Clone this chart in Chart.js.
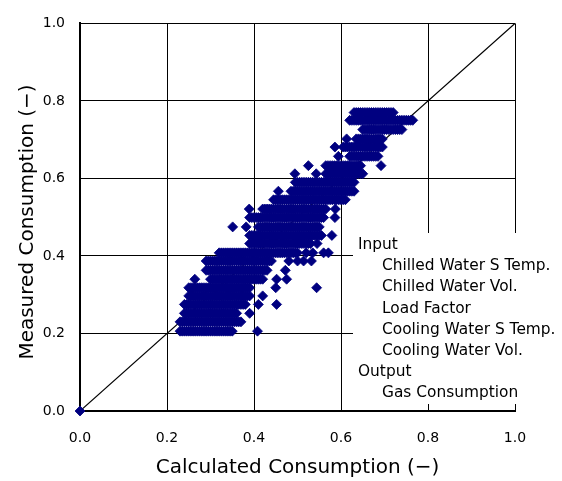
<!DOCTYPE html>
<html lang="en">
<head>
<meta charset="UTF-8">
<title>Measured vs Calculated Consumption</title>
<script src="https://cdn.jsdelivr.net/npm/chart.js"></script>
<style>
  body { margin: 0; background: #fff; }
  #wrap { width: 562px; height: 481px; }
</style>
</head>
<body>
<div id="wrap"><canvas id="scatterChart" width="562" height="481"></canvas></div>
<script>
// measured consumption of each horizontal band of points
const levels = [0, 0.206, 0.230, 0.252, 0.275, 0.297, 0.318, 0.340, 0.363, 0.387, 0.408, 0.432, 0.453,
  0.475, 0.499, 0.521, 0.545, 0.567, 0.590, 0.612, 0.633, 0.657, 0.681, 0.702, 0.726, 0.750, 0.770];

// calculated consumption of the points on each band
const row00 = [0];
const row01 = [0.23, 0.235, 0.24, 0.245, 0.25, 0.255, 0.26, 0.265, 0.27, 0.275, 0.28, 0.285, 0.29, 0.295, 0.30,
  0.305, 0.31, 0.315, 0.32, 0.325, 0.33, 0.335, 0.34, 0.345, 0.35, 0.408];
const row02 = [0.23, 0.235, 0.24, 0.245, 0.25, 0.255, 0.26, 0.265, 0.27, 0.275, 0.28, 0.285, 0.29, 0.295, 0.30,
  0.305, 0.31, 0.315, 0.32, 0.325, 0.33, 0.335, 0.34, 0.345, 0.35, 0.355, 0.36, 0.365, 0.37];
const row03 = [0.24, 0.245, 0.25, 0.255, 0.26, 0.265, 0.27, 0.275, 0.28, 0.285, 0.29, 0.295, 0.30, 0.305, 0.31,
  0.315, 0.32, 0.325, 0.33, 0.335, 0.34, 0.345, 0.35, 0.355, 0.36, 0.39];
const row04 = [0.24, 0.245, 0.25, 0.255, 0.26, 0.265, 0.27, 0.275, 0.28, 0.285, 0.29, 0.295, 0.30, 0.305, 0.31,
  0.315, 0.32, 0.325, 0.33, 0.335, 0.34, 0.345, 0.35, 0.355, 0.36, 0.365, 0.37, 0.375, 0.38, 0.41, 0.452];
const row05 = [0.25, 0.255, 0.26, 0.265, 0.27, 0.275, 0.28, 0.285, 0.29, 0.295, 0.30, 0.305, 0.31, 0.315, 0.32,
  0.325, 0.33, 0.335, 0.34, 0.345, 0.35, 0.355, 0.36, 0.365, 0.37, 0.375, 0.38, 0.385, 0.39, 0.42];
const row06 = [0.25, 0.255, 0.26, 0.265, 0.27, 0.275, 0.28, 0.285, 0.29, 0.295, 0.30, 0.305, 0.31, 0.315, 0.32,
  0.325, 0.33, 0.335, 0.34, 0.345, 0.35, 0.355, 0.36, 0.365, 0.37, 0.375, 0.38, 0.385, 0.39, 0.45, 0.544];
const row07 = [0.264, 0.30, 0.305, 0.31, 0.315, 0.32, 0.325, 0.33, 0.335, 0.34, 0.345, 0.35, 0.355, 0.36, 0.365,
  0.37, 0.375, 0.38, 0.385, 0.39, 0.395, 0.40, 0.405, 0.41, 0.415, 0.42, 0.452, 0.475];
const row08 = [0.29, 0.295, 0.30, 0.305, 0.31, 0.315, 0.32, 0.325, 0.33, 0.335, 0.34, 0.345, 0.35, 0.355, 0.36,
  0.365, 0.37, 0.375, 0.38, 0.385, 0.39, 0.395, 0.40, 0.405, 0.41, 0.415, 0.42, 0.425, 0.43, 0.472];
const row09 = [0.29, 0.295, 0.30, 0.305, 0.31, 0.315, 0.32, 0.325, 0.33, 0.335, 0.34, 0.345, 0.35, 0.355, 0.36,
  0.365, 0.37, 0.375, 0.38, 0.385, 0.39, 0.395, 0.40, 0.405, 0.41, 0.415, 0.42, 0.425, 0.43, 0.435, 0.44,
  0.48, 0.50, 0.514, 0.532];
const row10 = [0.32, 0.325, 0.33, 0.335, 0.34, 0.345, 0.35, 0.355, 0.36, 0.365, 0.37, 0.375, 0.38, 0.385, 0.39,
  0.395, 0.40, 0.405, 0.41, 0.415, 0.42, 0.425, 0.43, 0.435, 0.44, 0.445, 0.45, 0.455, 0.46, 0.465, 0.47,
  0.475, 0.48, 0.485, 0.49, 0.495, 0.50, 0.52, 0.535, 0.56, 0.571];
const row11 = [0.39, 0.395, 0.40, 0.405, 0.41, 0.415, 0.42, 0.425, 0.43, 0.435, 0.44, 0.445, 0.45, 0.455, 0.46,
  0.465, 0.47, 0.475, 0.48, 0.485, 0.49, 0.495, 0.50, 0.505, 0.51, 0.515, 0.52, 0.525, 0.53, 0.545];
const row12 = [0.39, 0.395, 0.40, 0.405, 0.41, 0.415, 0.42, 0.425, 0.43, 0.435, 0.44, 0.445, 0.45, 0.455, 0.46,
  0.465, 0.47, 0.475, 0.48, 0.485, 0.49, 0.495, 0.50, 0.505, 0.51, 0.515, 0.52, 0.525, 0.53, 0.535, 0.54,
  0.545, 0.55, 0.555, 0.579];
const row13 = [0.351, 0.382, 0.41, 0.415, 0.42, 0.425, 0.43, 0.435, 0.44, 0.445, 0.45, 0.455, 0.46, 0.465, 0.47,
  0.475, 0.48, 0.485, 0.49, 0.495, 0.50, 0.505, 0.51, 0.515, 0.52, 0.525, 0.53, 0.535, 0.54, 0.545, 0.55];
const row14 = [0.39, 0.395, 0.40, 0.405, 0.41, 0.415, 0.42, 0.425, 0.43, 0.435, 0.44, 0.445, 0.45, 0.455, 0.46,
  0.465, 0.47, 0.475, 0.48, 0.485, 0.49, 0.495, 0.50, 0.505, 0.51, 0.515, 0.52, 0.525, 0.53, 0.535, 0.54,
  0.545, 0.55, 0.555, 0.56, 0.586];
const row15 = [0.389, 0.42, 0.425, 0.43, 0.435, 0.44, 0.445, 0.45, 0.455, 0.46, 0.465, 0.47, 0.475, 0.48, 0.485,
  0.49, 0.495, 0.50, 0.505, 0.51, 0.515, 0.52, 0.525, 0.53, 0.535, 0.54, 0.545, 0.55, 0.555, 0.56, 0.565, 0.587];
const row16 = [0.445, 0.45, 0.455, 0.46, 0.465, 0.47, 0.475, 0.48, 0.485, 0.49, 0.495, 0.50, 0.505, 0.51, 0.515,
  0.52, 0.525, 0.53, 0.535, 0.54, 0.545, 0.55, 0.555, 0.56, 0.565, 0.57, 0.575, 0.58, 0.585, 0.59, 0.595,
  0.60, 0.605, 0.61];
const row17 = [0.456, 0.485, 0.49, 0.495, 0.50, 0.505, 0.51, 0.515, 0.52, 0.525, 0.53, 0.535, 0.54, 0.545, 0.55,
  0.555, 0.56, 0.565, 0.57, 0.575, 0.58, 0.585, 0.59, 0.595, 0.60, 0.605, 0.61, 0.615, 0.62, 0.625, 0.63];
const row18 = [0.495, 0.50, 0.505, 0.51, 0.515, 0.52, 0.525, 0.53, 0.535, 0.54, 0.545, 0.55, 0.555, 0.56, 0.565,
  0.57, 0.575, 0.58, 0.585, 0.59, 0.595, 0.60, 0.605, 0.61, 0.615, 0.62, 0.625, 0.63];
const row19 = [0.494, 0.543, 0.565, 0.57, 0.575, 0.58, 0.585, 0.59, 0.595, 0.60, 0.605, 0.61, 0.615, 0.62, 0.625,
  0.63, 0.635, 0.64, 0.645, 0.65];
const row20 = [0.525, 0.565, 0.57, 0.575, 0.58, 0.585, 0.59, 0.595, 0.60, 0.605, 0.61, 0.615, 0.62, 0.625, 0.63,
  0.635, 0.64, 0.645, 0.692];
const row21 = [0.594, 0.62, 0.625, 0.63, 0.635, 0.64, 0.645, 0.65, 0.655, 0.66, 0.665, 0.67, 0.675, 0.68, 0.685];
const row22 = [0.586, 0.605, 0.61, 0.615, 0.62, 0.625, 0.63, 0.635, 0.64, 0.645, 0.65, 0.655, 0.66, 0.665, 0.67,
  0.675, 0.68, 0.685, 0.69, 0.695];
const row23 = [0.613, 0.635, 0.64, 0.645, 0.65, 0.655, 0.66, 0.665, 0.67, 0.675, 0.68, 0.685, 0.69, 0.695];
const row24 = [0.65, 0.655, 0.66, 0.665, 0.67, 0.675, 0.68, 0.685, 0.69, 0.695, 0.70, 0.705, 0.71, 0.715, 0.72,
  0.725, 0.73, 0.735, 0.74];
const row25 = [0.62, 0.625, 0.63, 0.635, 0.64, 0.645, 0.65, 0.655, 0.66, 0.665, 0.67, 0.675, 0.68, 0.685, 0.69,
  0.695, 0.70, 0.705, 0.71, 0.715, 0.72, 0.725, 0.73, 0.735, 0.74, 0.745, 0.75, 0.755, 0.76, 0.765];
const row26 = [0.63, 0.635, 0.64, 0.645, 0.65, 0.655, 0.66, 0.665, 0.67, 0.675, 0.68, 0.685, 0.69, 0.695, 0.70,
  0.705, 0.71, 0.715, 0.72];

const rows = [row00, row01, row02, row03, row04, row05, row06, row07, row08, row09, row10, row11, row12, row13,
  row14, row15, row16, row17, row18, row19, row20, row21, row22, row23, row24, row25, row26];

const tickValues = [0, 0.2, 0.4, 0.6, 0.8, 1.0];
const diagonal = [0, 1];

const noteText = ['Input', 'Chilled Water S Temp.', 'Chilled Water Vol.', 'Load Factor',
  'Cooling Water S Temp.', 'Cooling Water Vol.', 'Output', 'Gas Consumption'];
const noteIndent = [0, 1, 1, 1, 1, 1, 0, 1];

const points = rows.flatMap((xs, i) => xs.map(x => ({ x: x, y: levels[i] })));

// white box with the model inputs/outputs, plus the rotated y title
const notePlugin = {
  id: 'note',
  afterDraw(chart) {
    const ctx = chart.ctx;
    ctx.save();
    ctx.fillStyle = '#fff';
    ctx.fillRect(353, 233, 209, 171);
    ctx.fillStyle = '#000';
    ctx.font = '15.4px "DejaVu Sans"';
    ctx.textBaseline = 'middle';
    ctx.textAlign = 'left';
    noteText.forEach((t, i) => {
      ctx.fillText(t, noteIndent[i] ? 382 : 358, 245 + i * 21.2);
    });
    ctx.translate(28, 222);
    ctx.rotate(-Math.PI / 2);
    ctx.font = '20px "DejaVu Sans"';
    ctx.textAlign = 'center';
    ctx.fillText('Measured Consumption (−)', 0, 0);
    ctx.restore();
  }
};

const axisFont = { family: 'DejaVu Sans', size: 14 };

new Chart(document.getElementById('scatterChart'), {
  type: 'scatter',
  data: {
    datasets: [{
      data: points,
      pointStyle: 'rectRot',
      pointRadius: 5,
      borderWidth: 0.8,
      backgroundColor: '#000080',
      borderColor: '#000080',
      clip: false
    }, {
      type: 'line',
      data: diagonal.map(v => ({ x: v, y: v })),
      borderColor: '#000',
      borderWidth: 1.2,
      pointRadius: 0,
      fill: false
    }]
  },
  options: {
    responsive: false,
    animation: false,
    devicePixelRatio: 1,
    layout: { padding: { top: 15, right: 47, left: 0, bottom: 0 } },
    plugins: { legend: { display: false }, tooltip: { enabled: false } },
    scales: {
      x: {
        type: 'linear', min: 0, max: 1,
        afterFit: s => { s.height = 70; },
        afterBuildTicks: s => { s.ticks = tickValues.map(v => ({ value: v })); },
        ticks: { callback: v => v.toFixed(1), color: '#000', font: axisFont, padding: 19, maxRotation: 0 },
        grid: { color: '#000', lineWidth: 1, drawTicks: false },
        border: { color: '#000', width: 2 },
        title: {
          display: true, text: 'Calculated Consumption (−)', color: '#000',
          font: { family: 'DejaVu Sans', size: 20 }, padding: { top: 0, bottom: 1 }
        }
      },
      y: {
        type: 'linear', min: 0, max: 1,
        afterFit: s => { s.width = 80; },
        afterBuildTicks: s => { s.ticks = tickValues.map(v => ({ value: v })); },
        ticks: { callback: v => v.toFixed(1), color: '#000', font: axisFont, padding: 15 },
        grid: { color: '#000', lineWidth: 1, drawTicks: false },
        border: { color: '#000', width: 2 }
      }
    }
  },
  plugins: [notePlugin]
});
</script>
</body>
</html>
